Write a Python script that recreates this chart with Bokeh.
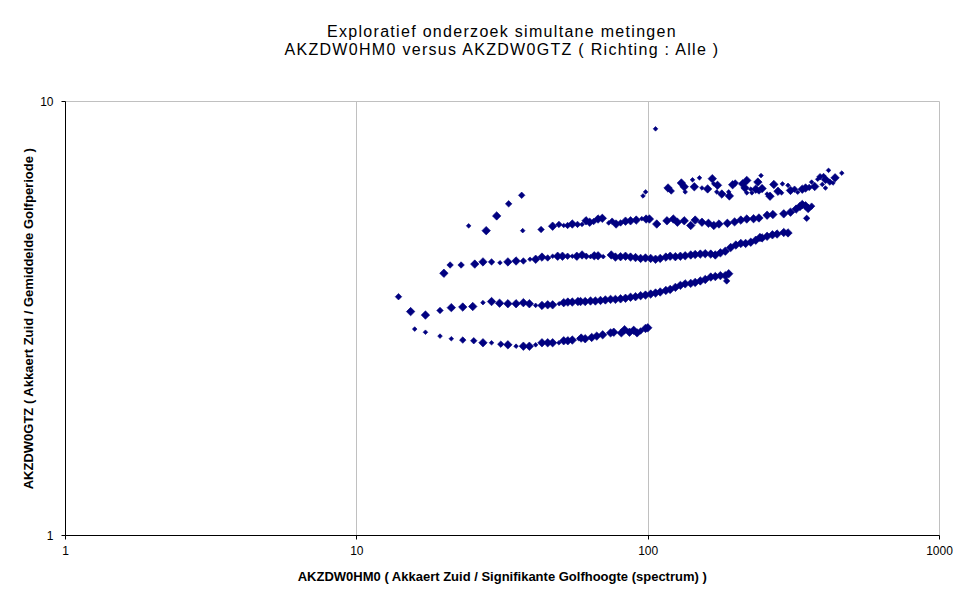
import numpy as np
from bokeh.plotting import figure
from bokeh.layouts import column
from bokeh.models import FixedTicker, PrintfTickFormatter, ColumnDataSource, Div
from bokeh.embed import file_html
from bokeh.resources import INLINE

# ---- data ----
title_line1 = "Exploratief onderzoek simultane metingen"
title_line2 = "AKZDW0HM0 versus AKZDW0GTZ ( Richting : Alle )"
x_label = "AKZDW0HM0 ( Akkaert Zuid / Signifikante Golfhoogte (spectrum) )"
y_label = "AKZDW0GTZ ( Akkaert Zuid / Gemiddelde Golfperiode )"
x_ticks = [1, 10, 100, 1000]
y_ticks = [1, 10]

# size code: 1 = small, 2 = medium, 3 = large marker
band_a_x = [15.8, 17.2, 19.3, 21.1, 23.1, 25.2, 27.1, 29.0, 31.2, 33.0, 35.2, 37.3, 39.1, 41.1,
            43.2, 45.2, 47.0, 49.4, 51.3, 53.0, 54.9, 57.8, 58.9, 60.8, 64.0, 66.6, 69.8, 74.3,
            76.2, 80.9, 83.0, 86.3, 89.2, 91.6, 94.2, 97.9, 99.7]
band_a_y = [2.99, 2.94, 2.88, 2.84, 2.82, 2.81, 2.78, 2.78, 2.76, 2.75, 2.73, 2.73, 2.73, 2.75,
            2.78, 2.78, 2.78, 2.78, 2.81, 2.81, 2.82, 2.84, 2.85, 2.84, 2.86, 2.88, 2.90, 2.93,
            2.94, 2.93, 2.98, 2.94, 2.97, 2.93, 2.96, 3.00, 3.01]
band_a_s = [1, 1, 1, 1, 2, 2, 3, 1, 2, 3, 1, 3, 3, 1, 3, 3, 3, 1, 3, 3, 3, 1, 3, 3, 3, 3, 3, 3,
            3, 3, 3, 3, 3, 3, 2, 3, 3]

band_b_x = [13.9, 15.3, 17.2, 19.3, 21.1, 23.1, 25.0, 27.1, 29.0, 30.9, 33.0, 35.2, 37.3, 39.1,
            41.1, 43.2, 45.2, 47.0, 49.5, 51.3, 53.0, 54.9, 57.4,
            58.6, 60.8, 63.4, 65.9, 68.6, 71.3, 74.3, 77.2, 80.4, 83.6,
            87.0, 90.5, 94.2, 97.9, 102, 106, 110, 115, 119, 124,
            129, 134, 140, 145, 151, 157, 164, 170, 177, 184, 189, 186]
band_b_y = [3.55, 3.28, 3.22, 3.30, 3.35, 3.36, 3.37, 3.44, 3.46, 3.43, 3.42, 3.42, 3.44, 3.42,
            3.39, 3.39, 3.40, 3.40, 3.42, 3.44, 3.45, 3.45, 3.46,
            3.46, 3.46, 3.47, 3.47, 3.48, 3.49, 3.50, 3.50, 3.51, 3.52,
            3.54, 3.55, 3.57, 3.58, 3.60, 3.62, 3.64, 3.67, 3.69, 3.73,
            3.77, 3.80, 3.81, 3.83, 3.86, 3.89, 3.94, 3.95, 3.97, 3.97, 4.01, 3.86]
band_b_s = [2, 3, 3, 2, 3, 3, 3, 1, 3, 3, 3, 3, 3, 3, 1, 3, 3, 3, 1, 3, 3, 3, 3,
            3, 3, 3, 3, 3, 3, 3, 3, 3, 3,
            3, 3, 3, 3, 3, 3, 3, 3, 3, 3,
            3, 3, 3, 3, 3, 3, 3, 3, 3, 3, 3, 2]

band_c_x = [19.9, 20.9, 22.8, 25.4, 27.1, 29.0, 31.0, 33.0, 35.2, 37.3, 39.3, 41.1, 43.2, 45.2,
            47.0, 48.9, 50.8, 52.9, 54.9, 56.9,
            59.3, 61.3, 63.4, 65.3, 67.3, 70.1, 74.7, 77.2, 80.4, 83.6,
            87.0, 90.5, 94.2, 97.9, 102, 106, 110, 115, 119, 124,
            129, 134, 140, 145, 151, 157, 164, 170, 177, 184,
            192, 200, 208, 216, 225, 234, 242, 246, 256, 267,
            277, 292, 302]
band_c_y = [4.02, 4.20, 4.20, 4.22, 4.27, 4.27, 4.25, 4.27, 4.29, 4.29, 4.33, 4.33, 4.38, 4.36,
            4.40, 4.40, 4.40, 4.40, 4.40, 4.40,
            4.43, 4.40, 4.39, 4.41, 4.41, 4.39, 4.43, 4.38, 4.39, 4.40,
            4.38, 4.37, 4.35, 4.36, 4.35, 4.33, 4.35, 4.38, 4.40, 4.39,
            4.40, 4.41, 4.43, 4.44, 4.45, 4.46, 4.45, 4.43, 4.48, 4.52,
            4.61, 4.67, 4.71, 4.71, 4.74, 4.79, 4.86, 4.85, 4.89, 4.93,
            4.95, 4.99, 4.98]
band_c_s = [3, 2, 2, 3, 3, 2, 1, 3, 3, 2, 1, 3, 3, 2, 1, 3, 3, 2, 1, 3,
            3, 2, 1, 3, 3, 1, 3, 3, 3, 3,
            3, 3, 3, 3, 3, 3, 3, 3, 3, 3,
            3, 3, 3, 3, 3, 3, 3, 3, 3, 3,
            3, 3, 3, 3, 3, 3, 3, 3, 3, 3,
            3, 3, 3]

band_d_x = [24.2, 27.8, 30.2, 33.2, 36.8, 37.1, 42.9, 47.0, 49.4, 51.3, 52.9, 54.9, 57.2, 59.3,
            61.2, 63.0, 65.0, 67.3, 69.6, 73.2, 75.2, 77.6, 80.4, 83.6, 87.0, 91.0, 95.1, 98.4,
            101, 107, 116, 122, 126, 133, 140, 145, 153, 161, 168, 175, 187, 198, 208, 218, 230, 240,
            256, 268, 292, 308, 322, 332, 338, 347, 354, 364, 350]
band_d_y = [5.17, 5.04, 5.45, 5.81, 6.08, 5.04, 5.07, 5.16, 5.21, 5.18, 5.18, 5.22, 5.21, 5.21,
            5.31, 5.27, 5.29, 5.36, 5.38, 5.25, 5.30, 5.22, 5.25, 5.30, 5.31, 5.33, 5.37, 5.36,
            5.36, 5.22, 5.31, 5.36, 5.27, 5.31, 5.18, 5.33, 5.27, 5.24, 5.18, 5.22, 5.24, 5.28, 5.33, 5.36, 5.37, 5.39,
            5.47, 5.49, 5.51, 5.56, 5.65, 5.73, 5.79, 5.75, 5.67, 5.74, 5.38]
band_d_s = [1, 3, 3, 2, 2, 1, 2, 3, 2, 1, 2, 3, 2, 1,
            3, 3, 2, 3, 3, 1, 2, 3, 2, 3, 3, 3, 1, 3,
            3, 3, 3, 3, 3, 3, 3, 3, 3, 3, 3, 3, 3, 3, 3, 3, 3, 3,
            3, 3, 3, 3, 3, 3, 3, 3, 3, 2, 2]

band_e_x = [106, 96, 98, 117, 120, 130, 133, 134, 142, 144, 150, 153, 160, 166, 168, 172, 173,
            179, 189, 190, 195, 199, 211, 215, 218, 218, 225, 234, 238, 240,
            227, 244, 246, 256, 262, 270, 279, 287, 289, 302, 308, 318, 326, 338, 347, 357, 364,
            373, 382, 389, 400, 406, 396, 406, 416, 420, 431, 438, 462]
band_e_y = [8.65, 6.06, 6.19, 6.32, 6.22, 6.49, 6.36, 6.19, 6.60, 6.36, 6.67, 6.32, 6.29, 6.64,
            6.46, 6.19, 6.41, 6.12, 6.19, 6.06, 6.43, 6.49, 6.46, 6.32, 6.58, 6.16, 6.28, 6.28,
            6.52, 6.19,
            6.16, 6.75, 6.30, 6.12, 6.05, 6.44, 6.21, 6.16, 6.46, 6.41, 6.24, 6.28, 6.18, 6.28,
            6.32, 6.34, 6.52, 6.37, 6.62, 6.71, 6.75, 6.61, 6.44, 6.32, 6.94, 6.52, 6.49, 6.67, 6.84]
band_e_s = [1, 1, 1, 3, 2, 3, 3, 1, 1, 3, 1, 1, 3, 3, 1, 1, 3, 3, 1, 3, 3, 2, 3, 3, 3, 1, 1, 3, 3, 1,
            1, 1, 3, 1, 3, 3, 3, 1, 1, 1, 3, 2, 1, 3, 3, 2, 1, 3, 1, 2, 1, 3, 1, 1, 1, 2, 1, 3, 1]

# ---- style ----
NAVY = "#000080"
GRID = "#c0c0c0"
FONT = "Liberation Sans"
marker_px = {1: 3.3, 2: 4.6, 3: 6.0}

TOTAL_W, TOTAL_H = 954, 588
HEADER_H = 70

xs = band_a_x + band_b_x + band_c_x + band_d_x + band_e_x
ys = band_a_y + band_b_y + band_c_y + band_d_y + band_e_y
ss = band_a_s + band_b_s + band_c_s + band_d_s + band_e_s
src = ColumnDataSource(dict(x=xs, y=ys, size=[marker_px[s] for s in ss]))

header = Div(
    text=(
        '<div style="width:904px; margin-left:50px; padding-top:23px; text-align:center; '
        f"font-family:'{FONT}'; font-size:16px; line-height:18px; letter-spacing:1.3px; "
        'color:black; white-space:nowrap;">'
        f"{title_line1}<br>{title_line2}</div>"
    ),
    width=TOTAL_W, height=HEADER_H, margin=0,
)

p = figure(width=TOTAL_W, height=TOTAL_H - HEADER_H, x_axis_type="log", y_axis_type="log",
           x_range=(1, 1000), y_range=(1, 10),
           output_backend="svg", toolbar_location=None, title=None, margin=0,
           min_border_left=65, min_border_right=15, min_border_top=31, min_border_bottom=53)

p.scatter("x", "y", source=src, size="size", marker="square", angle=np.pi / 4,
          fill_color=NAVY, line_color=NAVY, line_width=0.6)

p.outline_line_color = GRID
p.background_fill_color = "white"
p.border_fill_color = "white"

p.xaxis.ticker = FixedTicker(ticks=x_ticks)
p.yaxis.ticker = FixedTicker(ticks=y_ticks)
for ax in (p.xaxis, p.yaxis):
    ax.formatter = PrintfTickFormatter(format="%d")
    ax.axis_line_color = "black"
    ax.major_tick_line_color = "black"
    ax.major_tick_in = 0
    ax.major_tick_out = 4
    ax.minor_tick_line_color = None
    ax.major_label_text_font = FONT
    ax.major_label_text_font_size = "12px"
    ax.major_label_text_color = "black"
    ax.axis_label_text_font = FONT
    ax.axis_label_text_font_size = "13px"
    ax.axis_label_text_font_style = "bold"
    ax.axis_label_text_color = "black"

p.xaxis.axis_label = x_label
p.yaxis.axis_label = y_label
p.xaxis.major_label_standoff = 6
p.xaxis.axis_label_standoff = 11
p.yaxis.major_label_standoff = 8
p.yaxis.axis_label_standoff = 1

p.xgrid.grid_line_color = GRID
p.ygrid.grid_line_color = GRID

layout = column(header, p, spacing=0, margin=0)
open("out.html", "w").write(file_html(layout, INLINE))
